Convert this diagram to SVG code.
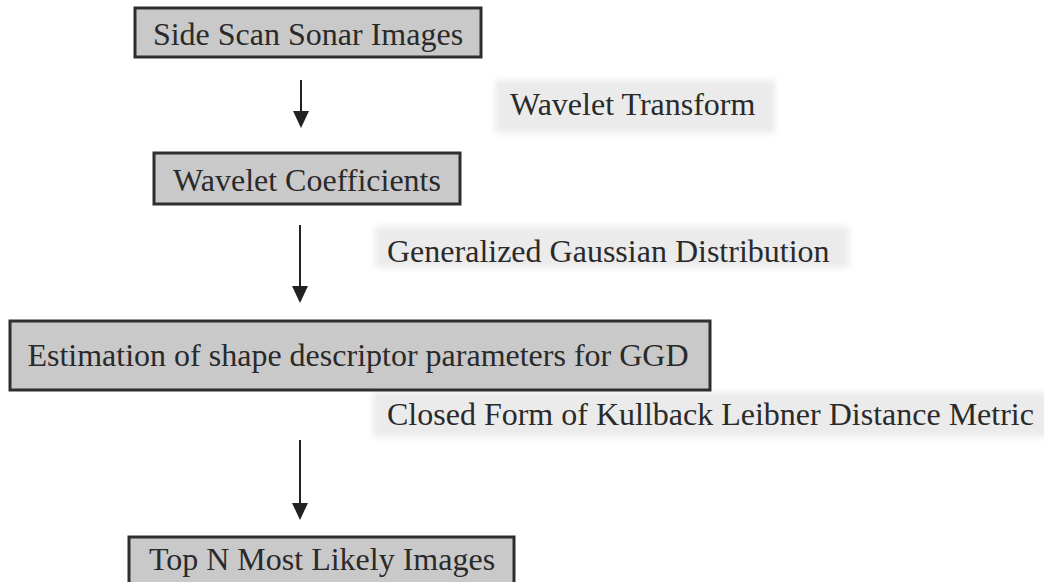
<svg xmlns="http://www.w3.org/2000/svg" width="1044" height="582" viewBox="0 0 1044 582">
<style>
.box{fill:#c9c9c9;stroke:#2e2e2e;stroke-width:3}
.lbl{fill:#ebebeb}
text{font-family:"Liberation Serif","Times New Roman",serif;font-size:32px;fill:#2a2a2a}
.c{text-anchor:middle}
.conn{stroke:#222;stroke-width:2;fill:none}
.head{fill:#222}
</style>
<defs>
<filter id="soft" x="-5%" y="-20%" width="110%" height="140%"><feGaussianBlur stdDeviation="3"/></filter>
</defs>
<rect width="1044" height="582" fill="#fff"/>
<g id="connectors">
<line class="conn" x1="301" y1="80" x2="301" y2="112"/>
<path class="head" d="M293,111 L309,111 L301,128 Z"/>
<line class="conn" x1="300" y1="225" x2="300" y2="287"/>
<path class="head" d="M292,286 L308,286 L300,303 Z"/>
<line class="conn" x1="300" y1="440" x2="300" y2="504"/>
<path class="head" d="M292,503 L308,503 L300,520 Z"/>
</g>
<g id="label-wavelet-transform">
<rect class="lbl" x="495" y="80" width="280" height="53" filter="url(#soft)"/>
<text x="510" y="115">Wavelet Transform</text>
</g>
<g id="label-ggd">
<rect class="lbl" x="375" y="226" width="474" height="42" filter="url(#soft)"/>
<text x="387" y="262">Generalized Gaussian Distribution</text>
</g>
<g id="label-kl">
<rect class="lbl" x="373" y="392" width="675" height="45" filter="url(#soft)"/>
<text x="387" y="425">Closed Form of Kullback Leibner Distance Metric</text>
</g>
<g id="node-sonar">
<rect class="box" x="135" y="8" width="346" height="49"/>
<text class="c" x="308" y="45">Side Scan Sonar Images</text>
</g>
<g id="node-coeff">
<rect class="box" x="154" y="153" width="306" height="51"/>
<text class="c" x="307" y="191">Wavelet Coefficients</text>
</g>
<g id="node-estimation">
<rect class="box" x="10" y="321" width="700" height="69"/>
<text class="c" x="358" y="366">Estimation of shape descriptor parameters for GGD</text>
</g>
<g id="node-topn">
<rect class="box" x="129" y="537" width="385" height="52"/>
<text class="c" x="322" y="570">Top N Most Likely Images</text>
</g>
</svg>
